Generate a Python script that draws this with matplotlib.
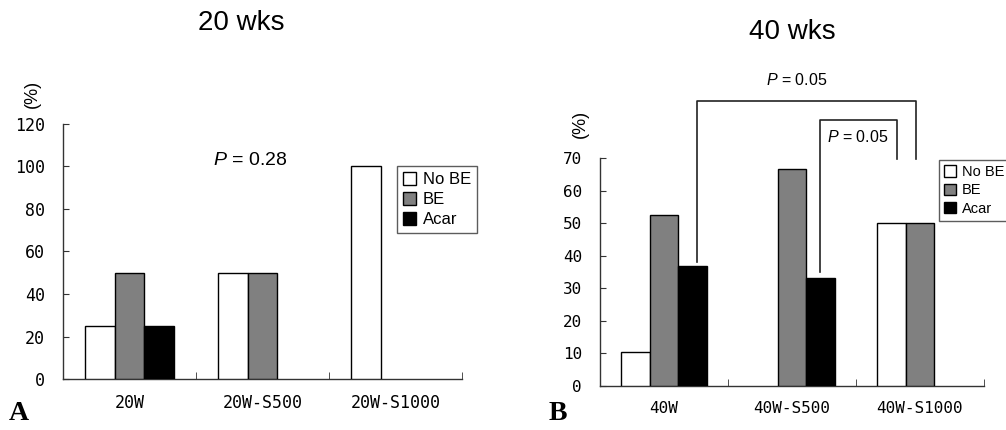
import matplotlib
matplotlib.use("Agg")
import matplotlib.pyplot as plt
import numpy as np

plt.rcParams["mathtext.fontset"] = "custom"
plt.rcParams["mathtext.it"] = "Liberation Sans:italic"
plt.rcParams["mathtext.rm"] = "Liberation Sans"

series = ["No BE", "BE", "Acar"]
colors = ["white", "#808080", "black"]

cats_a = ["20W", "20W-S500", "20W-S1000"]
nobe_a = [25, 50, 100]
be_a = [50, 50, 0]
acar_a = [25, 0, 0]

cats_b = ["40W", "40W-S500", "40W-S1000"]
nobe_b = [10.3, 0, 50]
be_b = [52.6, 66.7, 50]
acar_b = [36.8, 33.3, 0]

W, H = 1006, 430
fig = plt.figure(figsize=(W / 100, H / 100), dpi=100)
SANS = ["Liberation Sans", "DejaVu Sans"]
MONO = ["DejaVu Sans Mono"]


def px_axes(l, t, r, b):
    return fig.add_axes([l / W, 1 - b / H, (r - l) / W, (b - t) / H])


def draw(ax, cats, vals, ymax, ystep, tickfs, legfs, legloc, pad):
    x = np.arange(len(cats))
    bw = 0.222
    for i, (v, c, name) in enumerate(zip(vals, colors, series)):
        bars = ax.bar(x + (i - 1) * bw, v, bw, color=c, edgecolor="black",
                      linewidth=1.0, label=name, zorder=3)
        for p, val in zip(bars.patches, v):
            if val == 0:
                p.set_visible(False)
    ax.set_xlim(-0.5, len(cats) - 0.5)
    ax.set_ylim(0, ymax)
    for s in ["top", "right"]:
        ax.spines[s].set_visible(False)
    for s in ["left", "bottom"]:
        ax.spines[s].set_color("#333333")
        ax.spines[s].set_linewidth(1.0)
    ax.set_yticks(np.arange(0, ymax + 1, ystep))
    ax.set_xticks(x)
    ax.set_xticklabels(cats, fontfamily=MONO, fontsize=tickfs)
    ax.set_xticks(np.arange(0.5, len(cats), 1.0), minor=True)
    ax.tick_params(axis="x", which="major", length=0, pad=pad)
    ax.tick_params(axis="x", which="minor", length=5, direction="in", color="#333333")
    ax.tick_params(axis="y", length=4, direction="in", color="#333333", pad=13,
                   labelsize=tickfs)
    for lab in ax.get_yticklabels():
        lab.set_fontfamily(MONO)
    leg = ax.legend(loc="upper left", bbox_to_anchor=legloc, bbox_transform=fig.transFigure,
                    frameon=True, fancybox=False, edgecolor="#333333",
                    prop={"family": SANS, "size": legfs}, handlelength=0.8,
                    handleheight=0.8, handletextpad=0.4, borderpad=0.35,
                    labelspacing=0.3, borderaxespad=0)
    leg.get_frame().set_linewidth(1.0)
    return ax


# Panel A
axA = px_axes(63, 124, 462, 379)
draw(axA, cats_a, [nobe_a, be_a, acar_a], 120, 20, 12, 12, (397 / W, 1 - 166 / H), 11)
axA.text(0.906, 103, "$P$ = 0.28", ha="center", va="center", fontsize=14, fontfamily=SANS)

# Panel B
axB = px_axes(600, 158, 984, 386)
draw(axB, cats_b, [nobe_b, be_b, acar_b], 70, 10, 11.5, 10.5, (939 / W, 1 - 160 / H), 11)

# significance brackets
axB.plot([0.258, 0.258, 1.97, 1.97], [38.1, 87.5, 87.5, 69.7], color="#222222",
         lw=1.2, clip_on=False, zorder=4)
axB.plot([1.22, 1.22, 1.82, 1.82], [35.0, 81.7, 81.7, 69.7], color="#222222",
         lw=1.2, clip_on=False, zorder=4)
axB.text(1.04, 94.0, "$P$ = 0.05", ha="center", va="center", fontsize=11.5,
         fontfamily=SANS, clip_on=False)
axB.text(1.516, 76.5, "$P$ = 0.05", ha="center", va="center", fontsize=11.5,
         fontfamily=SANS, clip_on=False)

# titles and labels
fig.text(241 / W, 1 - 23 / H, "20 wks", ha="center", va="center", fontsize=20, fontfamily=SANS)
fig.text(792 / W, 1 - 32 / H, "40 wks", ha="center", va="center", fontsize=20, fontfamily=SANS)
fig.text(32 / W, 1 - 94 / H, "(%)", ha="center", va="center", rotation=90, fontsize=13,
         fontfamily=SANS)
fig.text(580 / W, 1 - 124 / H, "(%)", ha="center", va="center", rotation=90, fontsize=13,
         fontfamily=SANS)
fig.text(19 / W, 1 - 413 / H, "A", ha="center", va="center", fontsize=20,
         fontweight="bold", fontfamily=["Liberation Serif", "DejaVu Serif"])
fig.text(558 / W, 1 - 413 / H, "B", ha="center", va="center", fontsize=20,
         fontweight="bold", fontfamily=["Liberation Serif", "DejaVu Serif"])

fig.savefig("out.png", dpi=100)
